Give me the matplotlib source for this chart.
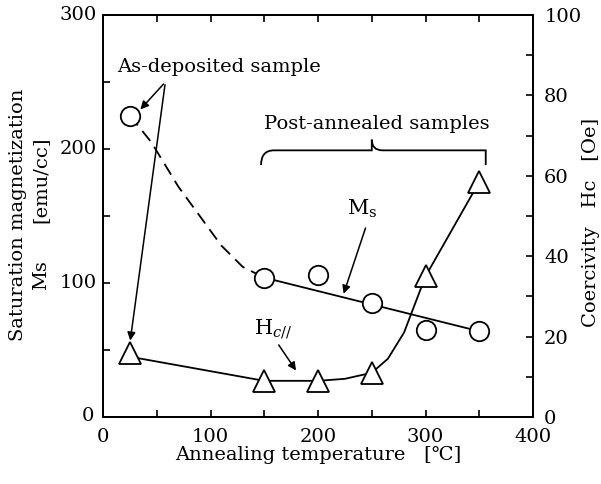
import matplotlib.pyplot as plt
from matplotlib.path import Path
from matplotlib.patches import PathPatch

plt.rcParams['font.family'] = ['DejaVu Serif']
plt.rcParams['mathtext.fontset'] = 'custom'
plt.rcParams['mathtext.rm'] = 'DejaVu Serif'
plt.rcParams['mathtext.it'] = 'DejaVu Serif:italic'

# Saturation magnetization (left axis)
ms_temp = [25, 150, 200, 250, 300, 350]
ms_vals = [225, 104, 106, 85, 65, 64]
# dashed guide for the as-deposited -> annealed transition
ms_dash_temp = [25, 45, 70, 90, 110, 130, 150]
ms_dash_vals = [225, 205, 172, 150, 128, 112, 104]
# solid fit line through annealed samples
ms_fit_temp = [150, 350]
ms_fit_vals = [104, 64]

# Coercivity (right axis)
hc_temp = [25, 150, 200, 250, 300, 350]
hc_vals = [16, 9, 9, 11, 35, 58.5]
hc_line_temp = [25, 150, 200, 225, 250, 265, 280, 300, 350]
hc_line_vals = [15, 9, 9, 9.5, 11, 14.5, 21, 35, 58.5]

fig = plt.figure(figsize=(6.01, 4.84), dpi=100)
ax = fig.add_axes([0.1714, 0.1384, 0.7155, 0.8306])
ax2 = ax.twinx()

lw = 1.3
ax.plot(ms_dash_temp, ms_dash_vals, color='black', lw=lw, ls=(0, (7, 4)))
ax.plot(ms_fit_temp, ms_fit_vals, color='black', lw=lw)
ax.plot(ms_temp, ms_vals, 'o', ms=14, mfc='white', mec='black', mew=1.3)

ax2.plot(hc_line_temp, hc_line_vals, color='black', lw=lw)
ax2.plot(hc_temp, hc_vals, '^', ms=16, mfc='white', mec='black', mew=1.3)

ax.set_xlim(0, 400)
ax.set_ylim(0, 300)
ax2.set_ylim(0, 100)

ax.set_xticks([0, 100, 200, 300, 400])
ax.set_xticks([50, 150, 250, 350], minor=True)
ax.set_yticks([0, 100, 200, 300])
ax.set_yticks([50, 150, 250], minor=True)
ax2.set_yticks([0, 20, 40, 60, 80, 100])
ax2.set_yticks([10, 30, 50, 70, 90], minor=True)

fs = 14
ax.tick_params(which='both', direction='in', top=True, labelsize=fs, pad=8)
ax.tick_params(which='both', length=5, width=1.2)
ax.tick_params(axis='y', labelleft=False)
ax2.tick_params(which='both', direction='in', length=5, width=1.2, labelsize=fs, pad=8)
for a in (ax, ax2):
    for s in a.spines.values():
        s.set_linewidth(1.4)

# left tick labels placed by hand to mimic the "0 over 0" corner
for v in [100, 200, 300]:
    ax.text(-6, v, str(v), ha='right', va='center', fontsize=fs)
ax.text(-8, 1, '0', ha='right', va='center', fontsize=fs)

ax.set_xlabel('Annealing temperature   [\u2103]', fontsize=fs, labelpad=0)
fig.text(0.030, 0.557, 'Saturation magnetization', rotation=90, fontsize=fs,
         ha='center', va='center')
fig.text(0.068, 0.432, 'Ms', rotation=90, fontsize=fs, ha='center', va='center')
fig.text(0.068, 0.628, '[emu/cc]', rotation=90, fontsize=fs, ha='center', va='center')
fig.text(0.983, 0.541, 'Coercivity   Hc   [Oe]', rotation=90, fontsize=fs,
         ha='center', va='center')

# annotations
ax.text(13, 261, 'As-deposited sample', fontsize=fs, ha='left', va='center')
ax.annotate('', xy=(33, 228), xytext=(58, 250),
            arrowprops=dict(arrowstyle='-|>', color='black', lw=1.1, mutation_scale=12))
ax.annotate('', xy=(25, 55), xytext=(58, 250),
            arrowprops=dict(arrowstyle='-|>', color='black', lw=1.1, mutation_scale=12))

ax.text(255, 219, 'Post-annealed samples', fontsize=fs, ha='center', va='center')
bx0, bx1, bxm = 147, 356, 250
by_end, by_top, by_peak = 188, 199, 207
verts = [(bx0, by_end), (bx0, by_top), (bx0 + 12, by_top), (bx0 + 22, by_top),
         (bxm - 10, by_top), (bxm, by_top), (bxm, by_peak),
         (bxm, by_top), (bxm + 10, by_top), (bx1 - 22, by_top),
         (bx1 - 12, by_top), (bx1, by_top), (bx1, by_end)]
codes = [Path.MOVETO, Path.CURVE3, Path.CURVE3, Path.LINETO,
         Path.CURVE3, Path.CURVE3, Path.LINETO,
         Path.CURVE3, Path.CURVE3, Path.LINETO,
         Path.CURVE3, Path.CURVE3, Path.LINETO]
ax.add_patch(PathPatch(Path(verts, codes), fill=False, lw=1.3, color='black'))

ax.text(241, 155, r'M$_\mathrm{s}$', fontsize=fs + 1, ha='center', va='center')
ax.annotate('', xy=(223, 90), xytext=(245, 143),
            arrowprops=dict(arrowstyle='-|>', color='black', lw=1.1, mutation_scale=12))

ax2.text(158, 22, r'H$_{c//}$', fontsize=fs + 1, ha='center', va='center')
ax2.annotate('', xy=(181, 11), xytext=(162, 18.5),
             arrowprops=dict(arrowstyle='-|>', color='black', lw=1.1, mutation_scale=12))

fig.savefig('out.png', dpi=100)
